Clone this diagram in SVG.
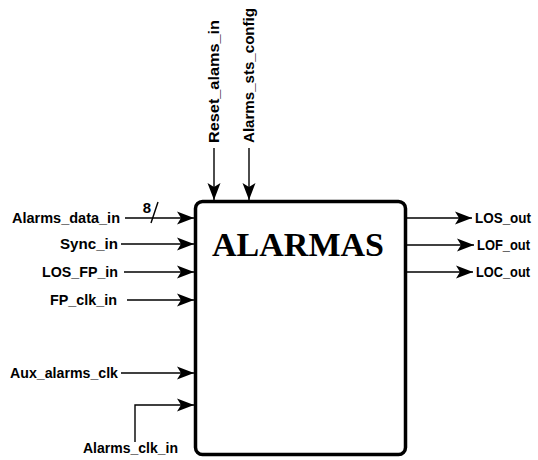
<svg xmlns="http://www.w3.org/2000/svg" width="538" height="460" viewBox="0 0 538 460">
<style>
.lbl{font-family:"Liberation Sans",Arial,sans-serif;font-weight:bold;font-size:15px;fill:#000}
.wire{stroke:#000;stroke-width:1.4;fill:none}
.box{stroke:#000;stroke-width:3.5;fill:#fff}
.title{font-family:"Liberation Serif","Times New Roman",serif;font-weight:bold;font-size:34px;fill:#000}
</style>
<defs>
<marker id="ah" markerUnits="userSpaceOnUse" markerWidth="18" markerHeight="14" refX="17" refY="7" orient="auto">
<path d="M0,0.5 L17,7 L0,13.5 L4,7 Z" fill="#000"/>
</marker>
</defs>
<rect width="538" height="460" fill="#fff"/>
<g id="alarmas">
<rect class="box" x="195.5" y="201.5" width="210" height="253" rx="7"/>
<text class="title" x="298" y="256" text-anchor="middle">ALARMAS</text>
</g>
<g id="connectors">
<path class="wire" d="M125,218 H194" marker-end="url(#ah)"/>
<path class="wire" d="M151,223 L158,202"/>
<path class="wire" d="M121,244 H194" marker-end="url(#ah)"/>
<path class="wire" d="M124,272 H194" marker-end="url(#ah)"/>
<path class="wire" d="M127,300 H194" marker-end="url(#ah)"/>
<path class="wire" d="M121,373 H194" marker-end="url(#ah)"/>
<path class="wire" d="M135,442 V405 H194" marker-end="url(#ah)"/>
<path class="wire" d="M214,148 V200" marker-end="url(#ah)"/>
<path class="wire" d="M249,148 V200" marker-end="url(#ah)"/>
<path class="wire" d="M407,218 H472" marker-end="url(#ah)"/>
<path class="wire" d="M407,245 H474" marker-end="url(#ah)"/>
<path class="wire" d="M407,272 H473" marker-end="url(#ah)"/>
</g>
<g id="in_alarms_data"><text class="lbl" x="12" y="223" textLength="108" lengthAdjust="spacingAndGlyphs">Alarms_data_in</text><text class="lbl" x="147" y="213" text-anchor="middle">8</text></g>
<g id="in_sync"><text class="lbl" x="60" y="249" textLength="58" lengthAdjust="spacingAndGlyphs">Sync_in</text></g>
<g id="in_los_fp"><text class="lbl" x="42" y="277" textLength="76" lengthAdjust="spacingAndGlyphs">LOS_FP_in</text></g>
<g id="in_fp_clk"><text class="lbl" x="50" y="305" textLength="67" lengthAdjust="spacingAndGlyphs">FP_clk_in</text></g>
<g id="in_aux"><text class="lbl" x="10" y="378" textLength="108" lengthAdjust="spacingAndGlyphs">Aux_alarms_clk</text></g>
<g id="in_clk"><text class="lbl" x="83" y="453" textLength="95" lengthAdjust="spacingAndGlyphs">Alarms_clk_in</text></g>
<g id="in_reset"><text class="lbl" transform="translate(219,143) rotate(-90)" textLength="123" lengthAdjust="spacingAndGlyphs">Reset_alams_in</text></g>
<g id="in_sts"><text class="lbl" transform="translate(254,143) rotate(-90)" textLength="135" lengthAdjust="spacingAndGlyphs">Alarms_sts_config</text></g>
<g id="out_los"><text class="lbl" x="475" y="223" textLength="56" lengthAdjust="spacingAndGlyphs">LOS_out</text></g>
<g id="out_lof"><text class="lbl" x="477" y="250" textLength="53" lengthAdjust="spacingAndGlyphs">LOF_out</text></g>
<g id="out_loc"><text class="lbl" x="476" y="277" textLength="54" lengthAdjust="spacingAndGlyphs">LOC_out</text></g>
</svg>
